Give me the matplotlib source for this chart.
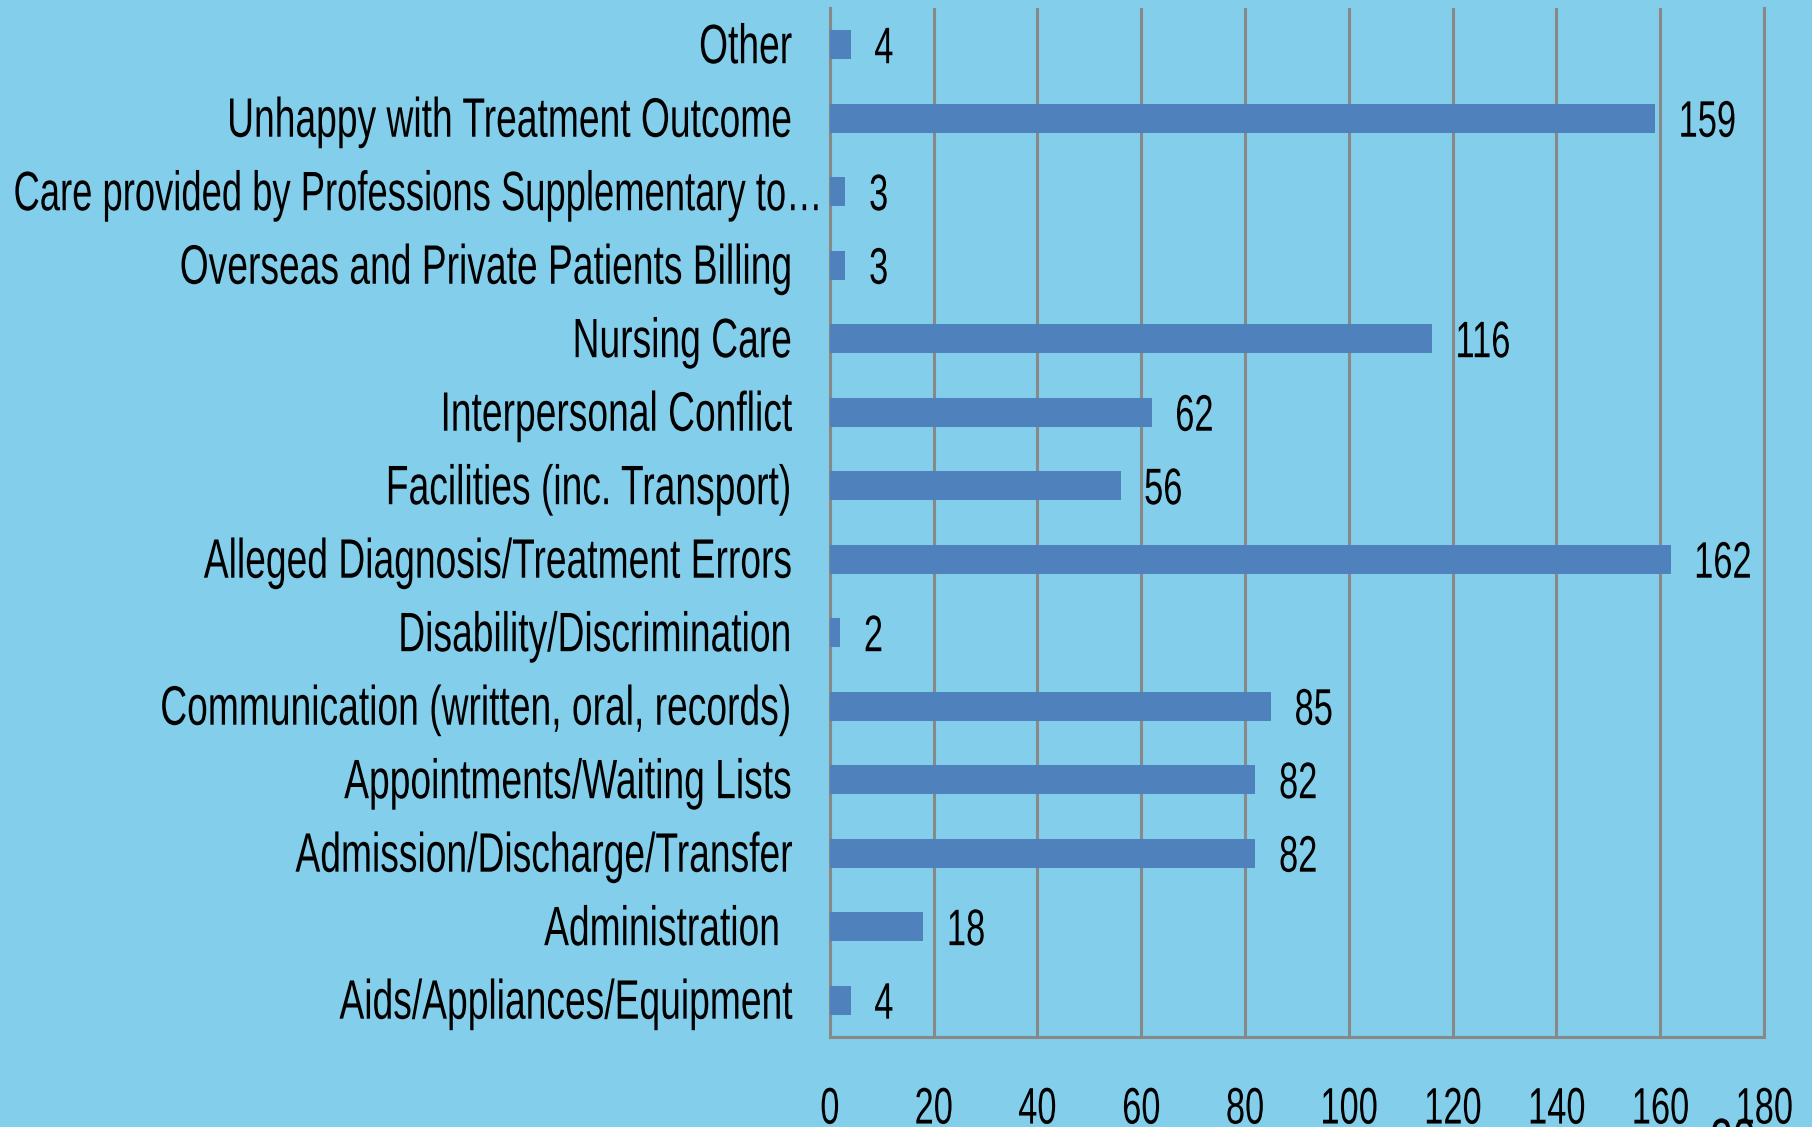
import matplotlib
matplotlib.use("Agg")
import matplotlib.pyplot as plt
from matplotlib import patheffects
from matplotlib.transforms import Affine2D

# complaint categories, bottom to top as drawn
categories = [
    "Aids/Appliances/Equipment",
    "Administration",
    "Admission/Discharge/Transfer",
    "Appointments/Waiting Lists",
    "Communication (written, oral, records)",
    "Disability/Discrimination",
    "Alleged Diagnosis/Treatment Errors",
    "Facilities (inc. Transport)",
    "Interpersonal Conflict",
    "Nursing Care",
    "Overseas and Private Patients Billing",
    "Care provided by Professions Supplementary to\u2026",
    "Unhappy with Treatment Outcome",
    "Other",
]
counts = [4, 18, 82, 82, 85, 2, 162, 56, 62, 116, 3, 3, 159, 4]
xticks = [0, 20, 40, 60, 80, 100, 120, 140, 160, 180]
page_number = "20"

bg = "#83CEEB"
bar_color = "#4F81BD"
grid_color = "#888888"


class Squeeze(patheffects.AbstractPathEffect):
    """draw text condensed horizontally (no narrow font installed)"""
    def __init__(self, sx, anchor="left"):
        super().__init__()
        self.sx = sx
        self.anchor = anchor

    def draw_path(self, renderer, gc, tpath, affine, rgbFace=None):
        ext = tpath.get_extents()
        if self.anchor == "right":
            x0 = ext.x1
        elif self.anchor == "center":
            x0 = (ext.x0 + ext.x1) / 2
        else:
            x0 = 0
        t = Affine2D().translate(-x0, 0).scale(self.sx, 1).translate(x0, 0) + affine
        renderer.draw_path(gc, tpath, t, rgbFace)


SX = 0.67
plt.rcParams['font.family'] = ['Liberation Sans', 'DejaVu Sans']

fig = plt.figure(figsize=(18.12, 11.27), dpi=100, facecolor=bg)
ax = fig.add_axes([0.458, 0.0799, 0.9735 - 0.458, 0.9929 - 0.0799])
ax.set_facecolor(bg)

ypos = list(range(len(categories)))
ax.barh(ypos, counts, height=0.4, color=bar_color, zorder=3)

# value labels
for y, v in zip(ypos, counts):
    ax.annotate(str(v), (v, y), xytext=(17, -13.3), textcoords="offset points",
                va="baseline", ha="left", fontsize=37, color="black",
                path_effects=[Squeeze(SX, "left")])

# category labels (a couple sit off the common right edge in the original)
long_label = "Care provided by Professions Supplementary to\u2026"
label_pad = {"Administration": 35, long_label: 4}
label_sx = {long_label: 0.655}
for y, cat in zip(ypos, categories):
    ax.annotate(cat, (0, y), xytext=(-label_pad.get(cat, 27), -13.3),
                textcoords="offset points", va="baseline", ha="right",
                fontsize=40, color="black", annotation_clip=False,
                path_effects=[Squeeze(label_sx.get(cat, SX), "right")])

ax.set_xlim(0, 180)
ax.set_ylim(-0.5, len(categories) - 0.5)
ax.set_xticks(xticks)
ax.set_yticks([])
ax.tick_params(axis="x", length=0, labelsize=37, pad=35)
for lbl in ax.get_xticklabels():
    lbl.set_path_effects([Squeeze(SX, "center")])

ax.grid(axis="x", color=grid_color, linewidth=2.2, zorder=0)
ax.set_axisbelow(True)
ax.spines["top"].set_visible(False)
for side in ["left", "right", "bottom"]:
    ax.spines[side].set_color(grid_color)
    ax.spines[side].set_linewidth(2.2)

# page number, cut off at the bottom edge
fig.text(1710 / 1812, 1 - 1117 / 1127, page_number, fontsize=44, va="top", ha="left",
         path_effects=[Squeeze(SX, "left")])

fig.savefig("out.png", dpi=100, facecolor=bg)
